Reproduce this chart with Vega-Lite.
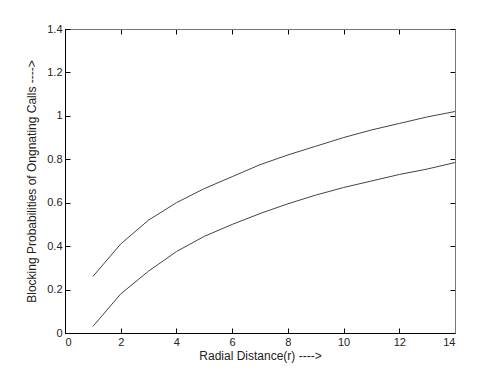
{
  "$schema": "https://vega.github.io/schema/vega-lite/v6.json",
  "width": 390,
  "height": 304,
  "autosize": "none",
  "padding": {"left": 65, "top": 29, "right": 47, "bottom": 41},
  "background": "white",
  "config": {
    "view": {"stroke": "black", "strokeWidth": 1},
    "axis": {"labelFont": "Liberation Sans", "labelFontSize": 11, "labelColor": "#222", "titleFont": "Liberation Sans", "titleFontSize": 12, "titleFontWeight": "normal", "titleColor": "#222", "grid": false, "domainColor": "black", "tickColor": "black"}
  },
  "data": {"values": [
    {"r": 1, "p": 0.26, "s": "a"}, {"r": 2, "p": 0.41, "s": "a"}, {"r": 3, "p": 0.52, "s": "a"}, {"r": 4, "p": 0.60, "s": "a"}, {"r": 5, "p": 0.665, "s": "a"}, {"r": 6, "p": 0.72, "s": "a"}, {"r": 7, "p": 0.775, "s": "a"}, {"r": 8, "p": 0.82, "s": "a"}, {"r": 9, "p": 0.86, "s": "a"}, {"r": 10, "p": 0.90, "s": "a"}, {"r": 11, "p": 0.935, "s": "a"}, {"r": 12, "p": 0.965, "s": "a"}, {"r": 13, "p": 0.995, "s": "a"}, {"r": 14, "p": 1.02, "s": "a"},
    {"r": 1, "p": 0.03, "s": "b"}, {"r": 2, "p": 0.18, "s": "b"}, {"r": 3, "p": 0.285, "s": "b"}, {"r": 4, "p": 0.375, "s": "b"}, {"r": 5, "p": 0.445, "s": "b"}, {"r": 6, "p": 0.50, "s": "b"}, {"r": 7, "p": 0.55, "s": "b"}, {"r": 8, "p": 0.595, "s": "b"}, {"r": 9, "p": 0.635, "s": "b"}, {"r": 10, "p": 0.67, "s": "b"}, {"r": 11, "p": 0.70, "s": "b"}, {"r": 12, "p": 0.73, "s": "b"}, {"r": 13, "p": 0.755, "s": "b"}, {"r": 14, "p": 0.785, "s": "b"}
  ]},
  "layer": [
    {
      "mark": {"type": "line", "color": "#444", "strokeWidth": 1},
      "encoding": {
        "x": {"field": "r", "type": "quantitative", "scale": {"domain": [0, 14], "nice": false}, "axis": {"orient": "bottom", "values": [0, 2, 4, 6, 8, 10, 12, 14], "tickSize": -5, "labelPadding": 8, "title": "Radial Distance(r)  ---->", "titlePadding": 3}},
        "y": {"field": "p", "type": "quantitative", "scale": {"domain": [0, 1.4], "nice": false}, "axis": {"orient": "left", "values": [0, 0.2, 0.4, 0.6, 0.8, 1, 1.2, 1.4], "format": "~g", "tickSize": -5, "labelPadding": 8, "title": "Blocking Probabilities of Ongnating Calls ---->", "titlePadding": 8}},
        "detail": {"field": "s"}
      }
    },
    {
      "mark": {"type": "line", "color": "#333", "strokeWidth": 1, "opacity": 0},
      "encoding": {
        "x": {"field": "r", "type": "quantitative", "scale": {"domain": [0, 14], "nice": false}, "axis": {"orient": "top", "values": [0, 2, 4, 6, 8, 10, 12, 14], "tickSize": -5, "labels": false, "title": null, "domainColor": "#777"}},
        "y": {"field": "p", "type": "quantitative", "scale": {"domain": [0, 1.4], "nice": false}, "axis": {"orient": "right", "values": [0, 0.2, 0.4, 0.6, 0.8, 1, 1.2, 1.4], "tickSize": -5, "labels": false, "title": null, "domainColor": "#777"}},
        "detail": {"field": "s"}
      }
    }
  ],
  "resolve": {"axis": {"x": "independent", "y": "independent"}}
}
